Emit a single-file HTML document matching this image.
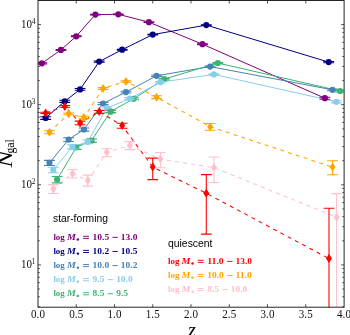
<!DOCTYPE html>
<html><head><meta charset="utf-8"><style>
html,body{margin:0;padding:0;background:#fff;}
body{width:350px;height:335px;overflow:hidden;}
svg{display:block;will-change:transform;}
</style></head><body>
<svg width="350" height="335" viewBox="0 0 350 335">
<defs><clipPath id="ax"><rect x="38.0" y="0.5" width="306.1" height="306.7"/></clipPath></defs>
<rect width="350" height="335" fill="#fff"/>
<g clip-path="url(#ax)">
<path d="M41.83,63.30 L60.95,49.90 L76.25,36.30 L95.38,14.60 L118.33,14.30 L148.93,22.20 L202.47,44.20 L324.88,98.20" stroke="#800080" stroke-width="1.0" fill="none"/><path d="M45.65,118.00 L64.78,101.30 L80.08,89.40 L99.20,61.60 L122.15,49.70 L152.75,34.60 L206.30,25.10 L328.70,62.10" stroke="#000080" stroke-width="1.0" fill="none"/><path d="M49.48,162.80 L68.60,139.60 L83.90,129.50 L103.02,103.50 L125.97,92.10 L156.57,75.80 L210.12,66.60 L332.53,89.80" stroke="#4682b4" stroke-width="1.0" fill="none"/><path d="M57.12,179.50 L76.25,147.30 L91.55,140.50 L110.67,111.50 L133.62,98.80 L164.22,79.10 L217.78,63.00 L340.18,91.00" stroke="#3cb371" stroke-width="1.0" fill="none"/><path d="M53.30,169.90 L72.43,146.80 L87.72,141.90 L106.85,108.10 L129.80,98.60 L160.40,82.20 L213.95,74.40 L336.35,101.80" stroke="#87ceeb" stroke-width="1.0" fill="none"/><path d="M45.65,112.90 L64.78,106.40 L80.08,122.90 L99.20,111.60 L122.15,125.60 L152.75,167.10 L206.30,193.30 L329.00,258.60" stroke="#ff0000" stroke-width="1.05" fill="none" stroke-dasharray="4 4.2"/><path d="M49.48,132.30 L68.60,113.80 L83.90,117.50 L103.02,88.40 L125.97,81.40 L156.57,97.20 L210.12,126.70 L332.53,167.10" stroke="#ffa500" stroke-width="1.05" fill="none" stroke-dasharray="4 4.2"/><path d="M53.30,189.00 L72.43,173.60 L87.72,180.60 L106.85,152.30 L129.80,145.50 L160.40,159.10 L213.95,167.60 L336.60,217.20" stroke="#ffc0cb" stroke-width="1.05" fill="none" stroke-dasharray="4 4.2"/>
<path d="M41.83,62.70V63.91" stroke="#800080" stroke-width="1.1" fill="none"/><path d="M36.43,62.70H47.23M36.43,63.91H47.23" stroke="#800080" stroke-width="1.05" fill="none"/><circle cx="41.83" cy="63.30" r="3.1" fill="#800080"/><path d="M60.95,49.40V50.40" stroke="#800080" stroke-width="1.1" fill="none"/><path d="M55.55,49.40H66.35M55.55,50.40H66.35" stroke="#800080" stroke-width="1.05" fill="none"/><circle cx="60.95" cy="49.90" r="3.1" fill="#800080"/><path d="M76.25,35.89V36.71" stroke="#800080" stroke-width="1.1" fill="none"/><path d="M70.85,35.89H81.65M70.85,36.71H81.65" stroke="#800080" stroke-width="1.05" fill="none"/><circle cx="76.25" cy="36.30" r="3.1" fill="#800080"/><path d="M95.38,14.30V14.90" stroke="#800080" stroke-width="1.1" fill="none"/><path d="M89.97,14.30H100.78M89.97,14.90H100.78" stroke="#800080" stroke-width="1.05" fill="none"/><circle cx="95.38" cy="14.60" r="3.1" fill="#800080"/><path d="M118.33,14.00V14.60" stroke="#800080" stroke-width="1.1" fill="none"/><path d="M112.92,14.00H123.73M112.92,14.60H123.73" stroke="#800080" stroke-width="1.05" fill="none"/><circle cx="118.33" cy="14.30" r="3.1" fill="#800080"/><path d="M148.93,21.87V22.54" stroke="#800080" stroke-width="1.1" fill="none"/><path d="M143.53,21.87H154.33M143.53,22.54H154.33" stroke="#800080" stroke-width="1.05" fill="none"/><circle cx="148.93" cy="22.20" r="3.1" fill="#800080"/><path d="M202.47,43.74V44.66" stroke="#800080" stroke-width="1.1" fill="none"/><path d="M197.07,43.74H207.88M197.07,44.66H207.88" stroke="#800080" stroke-width="1.05" fill="none"/><circle cx="202.47" cy="44.20" r="3.1" fill="#800080"/><path d="M324.88,97.21V99.22" stroke="#800080" stroke-width="1.1" fill="none"/><path d="M319.48,97.21H330.27M319.48,99.22H330.27" stroke="#800080" stroke-width="1.05" fill="none"/><circle cx="324.88" cy="98.20" r="3.1" fill="#800080"/><path d="M45.65,116.69V119.36" stroke="#000080" stroke-width="1.1" fill="none"/><path d="M40.25,116.69H51.05M40.25,119.36H51.05" stroke="#000080" stroke-width="1.05" fill="none"/><circle cx="45.65" cy="118.00" r="3.1" fill="#000080"/><path d="M64.78,100.27V102.36" stroke="#000080" stroke-width="1.1" fill="none"/><path d="M59.38,100.27H70.18M59.38,102.36H70.18" stroke="#000080" stroke-width="1.05" fill="none"/><circle cx="64.78" cy="101.30" r="3.1" fill="#000080"/><path d="M80.08,88.53V90.29" stroke="#000080" stroke-width="1.1" fill="none"/><path d="M74.67,88.53H85.48M74.67,90.29H85.48" stroke="#000080" stroke-width="1.05" fill="none"/><circle cx="80.08" cy="89.40" r="3.1" fill="#000080"/><path d="M99.20,61.01V62.20" stroke="#000080" stroke-width="1.1" fill="none"/><path d="M93.80,61.01H104.60M93.80,62.20H104.60" stroke="#000080" stroke-width="1.05" fill="none"/><circle cx="99.20" cy="61.60" r="3.1" fill="#000080"/><path d="M122.15,49.20V50.20" stroke="#000080" stroke-width="1.1" fill="none"/><path d="M116.75,49.20H127.55M116.75,50.20H127.55" stroke="#000080" stroke-width="1.05" fill="none"/><circle cx="122.15" cy="49.70" r="3.1" fill="#000080"/><path d="M152.75,34.20V35.00" stroke="#000080" stroke-width="1.1" fill="none"/><path d="M147.35,34.20H158.15M147.35,35.00H158.15" stroke="#000080" stroke-width="1.05" fill="none"/><circle cx="152.75" cy="34.60" r="3.1" fill="#000080"/><path d="M206.30,24.75V25.45" stroke="#000080" stroke-width="1.1" fill="none"/><path d="M200.90,24.75H211.70M200.90,25.45H211.70" stroke="#000080" stroke-width="1.05" fill="none"/><circle cx="206.30" cy="25.10" r="3.1" fill="#000080"/><path d="M328.70,61.51V62.70" stroke="#000080" stroke-width="1.1" fill="none"/><path d="M323.30,61.51H334.10M323.30,62.70H334.10" stroke="#000080" stroke-width="1.05" fill="none"/><circle cx="328.70" cy="62.10" r="3.1" fill="#000080"/><path d="M49.48,160.35V165.43" stroke="#4682b4" stroke-width="1.1" fill="none"/><path d="M44.08,160.35H54.88M44.08,165.43H54.88" stroke="#4682b4" stroke-width="1.05" fill="none"/><circle cx="49.48" cy="162.80" r="3.1" fill="#4682b4"/><path d="M68.60,137.83V141.47" stroke="#4682b4" stroke-width="1.1" fill="none"/><path d="M63.20,137.83H74.00M63.20,141.47H74.00" stroke="#4682b4" stroke-width="1.05" fill="none"/><circle cx="68.60" cy="139.60" r="3.1" fill="#4682b4"/><path d="M83.90,127.96V131.11" stroke="#4682b4" stroke-width="1.1" fill="none"/><path d="M78.50,127.96H89.30M78.50,131.11H89.30" stroke="#4682b4" stroke-width="1.05" fill="none"/><circle cx="83.90" cy="129.50" r="3.1" fill="#4682b4"/><path d="M103.02,102.44V104.60" stroke="#4682b4" stroke-width="1.1" fill="none"/><path d="M97.62,102.44H108.42M97.62,104.60H108.42" stroke="#4682b4" stroke-width="1.05" fill="none"/><circle cx="103.02" cy="103.50" r="3.1" fill="#4682b4"/><path d="M125.97,91.19V93.03" stroke="#4682b4" stroke-width="1.1" fill="none"/><path d="M120.57,91.19H131.38M120.57,93.03H131.38" stroke="#4682b4" stroke-width="1.05" fill="none"/><circle cx="125.97" cy="92.10" r="3.1" fill="#4682b4"/><path d="M156.57,75.08V76.53" stroke="#4682b4" stroke-width="1.1" fill="none"/><path d="M151.17,75.08H161.97M151.17,76.53H161.97" stroke="#4682b4" stroke-width="1.05" fill="none"/><circle cx="156.57" cy="75.80" r="3.1" fill="#4682b4"/><path d="M210.12,65.97V67.24" stroke="#4682b4" stroke-width="1.1" fill="none"/><path d="M204.72,65.97H215.53M204.72,67.24H215.53" stroke="#4682b4" stroke-width="1.05" fill="none"/><circle cx="210.12" cy="66.60" r="3.1" fill="#4682b4"/><path d="M332.53,88.92V90.70" stroke="#4682b4" stroke-width="1.1" fill="none"/><path d="M327.13,88.92H337.93M327.13,90.70H337.93" stroke="#4682b4" stroke-width="1.05" fill="none"/><circle cx="332.53" cy="89.80" r="3.1" fill="#4682b4"/><path d="M57.12,176.42V182.88" stroke="#3cb371" stroke-width="1.1" fill="none"/><path d="M51.73,176.42H62.52M51.73,182.88H62.52" stroke="#3cb371" stroke-width="1.05" fill="none"/><circle cx="57.12" cy="179.50" r="3.1" fill="#3cb371"/><path d="M76.25,145.33V149.39" stroke="#3cb371" stroke-width="1.1" fill="none"/><path d="M70.85,145.33H81.65M70.85,149.39H81.65" stroke="#3cb371" stroke-width="1.05" fill="none"/><circle cx="76.25" cy="147.30" r="3.1" fill="#3cb371"/><path d="M91.55,138.71V142.39" stroke="#3cb371" stroke-width="1.1" fill="none"/><path d="M86.15,138.71H96.95M86.15,142.39H96.95" stroke="#3cb371" stroke-width="1.05" fill="none"/><circle cx="91.55" cy="140.50" r="3.1" fill="#3cb371"/><path d="M110.67,110.31V112.73" stroke="#3cb371" stroke-width="1.1" fill="none"/><path d="M105.27,110.31H116.08M105.27,112.73H116.08" stroke="#3cb371" stroke-width="1.05" fill="none"/><circle cx="110.67" cy="111.50" r="3.1" fill="#3cb371"/><path d="M133.62,97.80V99.83" stroke="#3cb371" stroke-width="1.1" fill="none"/><path d="M128.22,97.80H139.03M128.22,99.83H139.03" stroke="#3cb371" stroke-width="1.05" fill="none"/><circle cx="133.62" cy="98.80" r="3.1" fill="#3cb371"/><path d="M164.22,78.35V79.87" stroke="#3cb371" stroke-width="1.1" fill="none"/><path d="M158.82,78.35H169.62M158.82,79.87H169.62" stroke="#3cb371" stroke-width="1.05" fill="none"/><circle cx="164.22" cy="79.10" r="3.1" fill="#3cb371"/><path d="M217.78,62.40V63.61" stroke="#3cb371" stroke-width="1.1" fill="none"/><path d="M212.38,62.40H223.18M212.38,63.61H223.18" stroke="#3cb371" stroke-width="1.05" fill="none"/><circle cx="217.78" cy="63.00" r="3.1" fill="#3cb371"/><path d="M340.18,90.11V91.92" stroke="#3cb371" stroke-width="1.1" fill="none"/><path d="M334.78,90.11H345.57M334.78,91.92H345.57" stroke="#3cb371" stroke-width="1.05" fill="none"/><circle cx="340.18" cy="91.00" r="3.1" fill="#3cb371"/><path d="M53.30,167.20V172.83" stroke="#87ceeb" stroke-width="1.1" fill="none"/><path d="M47.90,167.20H58.70M47.90,172.83H58.70" stroke="#87ceeb" stroke-width="1.05" fill="none"/><circle cx="53.30" cy="169.90" r="3.1" fill="#87ceeb"/><path d="M72.43,144.84V148.88" stroke="#87ceeb" stroke-width="1.1" fill="none"/><path d="M67.03,144.84H77.83M67.03,148.88H77.83" stroke="#87ceeb" stroke-width="1.05" fill="none"/><circle cx="72.43" cy="146.80" r="3.1" fill="#87ceeb"/><path d="M87.72,140.07V143.83" stroke="#87ceeb" stroke-width="1.1" fill="none"/><path d="M82.32,140.07H93.12M82.32,143.83H93.12" stroke="#87ceeb" stroke-width="1.05" fill="none"/><circle cx="87.72" cy="141.90" r="3.1" fill="#87ceeb"/><path d="M106.85,106.96V109.27" stroke="#87ceeb" stroke-width="1.1" fill="none"/><path d="M101.45,106.96H112.25M101.45,109.27H112.25" stroke="#87ceeb" stroke-width="1.05" fill="none"/><circle cx="106.85" cy="108.10" r="3.1" fill="#87ceeb"/><path d="M129.80,97.61V99.62" stroke="#87ceeb" stroke-width="1.1" fill="none"/><path d="M124.40,97.61H135.20M124.40,99.62H135.20" stroke="#87ceeb" stroke-width="1.05" fill="none"/><circle cx="129.80" cy="98.60" r="3.1" fill="#87ceeb"/><path d="M160.40,81.41V83.01" stroke="#87ceeb" stroke-width="1.1" fill="none"/><path d="M155.00,81.41H165.80M155.00,83.01H165.80" stroke="#87ceeb" stroke-width="1.05" fill="none"/><circle cx="160.40" cy="82.20" r="3.1" fill="#87ceeb"/><path d="M213.95,73.70V75.12" stroke="#87ceeb" stroke-width="1.1" fill="none"/><path d="M208.55,73.70H219.35M208.55,75.12H219.35" stroke="#87ceeb" stroke-width="1.05" fill="none"/><circle cx="213.95" cy="74.40" r="3.1" fill="#87ceeb"/><path d="M336.35,100.76V102.87" stroke="#87ceeb" stroke-width="1.1" fill="none"/><path d="M330.95,100.76H341.75M330.95,102.87H341.75" stroke="#87ceeb" stroke-width="1.05" fill="none"/><circle cx="336.35" cy="101.80" r="3.1" fill="#87ceeb"/><path d="M45.65,112.30V113.50" stroke="#ff0000" stroke-width="1.1" fill="none"/><path d="M40.25,112.30H51.05M40.25,113.50H51.05" stroke="#ff0000" stroke-width="1.05" fill="none"/><path d="M45.65,108.40L48.65,112.90L45.65,117.40L42.65,112.90Z" fill="#ff0000"/><path d="M64.78,105.50V107.20" stroke="#ff0000" stroke-width="1.1" fill="none"/><path d="M59.38,105.50H70.18M59.38,107.20H70.18" stroke="#ff0000" stroke-width="1.05" fill="none"/><path d="M64.78,101.90L67.78,106.40L64.78,110.90L61.78,106.40Z" fill="#ff0000"/><path d="M80.08,121.10V124.80" stroke="#ff0000" stroke-width="1.1" fill="none"/><path d="M74.67,121.10H85.48M74.67,124.80H85.48" stroke="#ff0000" stroke-width="1.05" fill="none"/><path d="M80.08,118.40L83.08,122.90L80.08,127.40L77.08,122.90Z" fill="#ff0000"/><path d="M99.20,110.50V113.20" stroke="#ff0000" stroke-width="1.1" fill="none"/><path d="M93.80,110.50H104.60M93.80,113.20H104.60" stroke="#ff0000" stroke-width="1.05" fill="none"/><path d="M99.20,107.10L102.20,111.60L99.20,116.10L96.20,111.60Z" fill="#ff0000"/><path d="M122.15,123.20V128.30" stroke="#ff0000" stroke-width="1.1" fill="none"/><path d="M116.75,123.20H127.55M116.75,128.30H127.55" stroke="#ff0000" stroke-width="1.05" fill="none"/><path d="M122.15,121.10L125.15,125.60L122.15,130.10L119.15,125.60Z" fill="#ff0000"/><path d="M152.75,158.10V179.60" stroke="#ff0000" stroke-width="1.1" fill="none"/><path d="M147.35,158.10H158.15M147.35,179.60H158.15" stroke="#ff0000" stroke-width="1.05" fill="none"/><path d="M152.75,162.60L155.75,167.10L152.75,171.60L149.75,167.10Z" fill="#ff0000"/><path d="M206.30,174.60V234.10" stroke="#ff0000" stroke-width="1.1" fill="none"/><path d="M200.90,174.60H211.70M200.90,234.10H211.70" stroke="#ff0000" stroke-width="1.05" fill="none"/><path d="M206.30,188.80L209.30,193.30L206.30,197.80L203.30,193.30Z" fill="#ff0000"/><path d="M329.00,208.30V320.00" stroke="#ff0000" stroke-width="1.1" fill="none"/><path d="M323.60,208.30H334.40" stroke="#ff0000" stroke-width="1.05" fill="none"/><path d="M329.00,254.10L332.00,258.60L329.00,263.10L326.00,258.60Z" fill="#ff0000"/><path d="M49.48,130.80V133.70" stroke="#ffa500" stroke-width="1.1" fill="none"/><path d="M44.08,130.80H54.88M44.08,133.70H54.88" stroke="#ffa500" stroke-width="1.05" fill="none"/><path d="M49.48,127.80L52.48,132.30L49.48,136.80L46.48,132.30Z" fill="#ffa500"/><path d="M68.60,112.90V114.80" stroke="#ffa500" stroke-width="1.1" fill="none"/><path d="M63.20,112.90H74.00M63.20,114.80H74.00" stroke="#ffa500" stroke-width="1.05" fill="none"/><path d="M68.60,109.30L71.60,113.80L68.60,118.30L65.60,113.80Z" fill="#ffa500"/><path d="M83.90,116.30V118.70" stroke="#ffa500" stroke-width="1.1" fill="none"/><path d="M78.50,116.30H89.30M78.50,118.70H89.30" stroke="#ffa500" stroke-width="1.05" fill="none"/><path d="M83.90,113.00L86.90,117.50L83.90,122.00L80.90,117.50Z" fill="#ffa500"/><path d="M103.02,87.60V89.40" stroke="#ffa500" stroke-width="1.1" fill="none"/><path d="M97.62,87.60H108.42M97.62,89.40H108.42" stroke="#ffa500" stroke-width="1.05" fill="none"/><path d="M103.02,83.90L106.02,88.40L103.02,92.90L100.02,88.40Z" fill="#ffa500"/><path d="M125.97,80.70V82.20" stroke="#ffa500" stroke-width="1.1" fill="none"/><path d="M120.57,80.70H131.38M120.57,82.20H131.38" stroke="#ffa500" stroke-width="1.05" fill="none"/><path d="M125.97,76.90L128.97,81.40L125.97,85.90L122.97,81.40Z" fill="#ffa500"/><path d="M156.57,95.70V98.60" stroke="#ffa500" stroke-width="1.1" fill="none"/><path d="M151.17,95.70H161.97M151.17,98.60H161.97" stroke="#ffa500" stroke-width="1.05" fill="none"/><path d="M156.57,92.70L159.57,97.20L156.57,101.70L153.57,97.20Z" fill="#ffa500"/><path d="M210.12,123.50V130.30" stroke="#ffa500" stroke-width="1.1" fill="none"/><path d="M204.72,123.50H215.53M204.72,130.30H215.53" stroke="#ffa500" stroke-width="1.05" fill="none"/><path d="M210.12,122.20L213.12,126.70L210.12,131.20L207.12,126.70Z" fill="#ffa500"/><path d="M332.53,160.70V174.80" stroke="#ffa500" stroke-width="1.1" fill="none"/><path d="M327.13,160.70H337.93M327.13,174.80H337.93" stroke="#ffa500" stroke-width="1.05" fill="none"/><path d="M332.53,162.60L335.53,167.10L332.53,171.60L329.53,167.10Z" fill="#ffa500"/><path d="M53.30,184.60V193.40" stroke="#ffc0cb" stroke-width="1.1" fill="none"/><path d="M47.90,184.60H58.70M47.90,193.40H58.70" stroke="#ffc0cb" stroke-width="1.05" fill="none"/><path d="M53.30,184.50L56.30,189.00L53.30,193.50L50.30,189.00Z" fill="#ffc0cb"/><path d="M72.43,169.40V178.00" stroke="#ffc0cb" stroke-width="1.1" fill="none"/><path d="M67.03,169.40H77.83M67.03,178.00H77.83" stroke="#ffc0cb" stroke-width="1.05" fill="none"/><path d="M72.43,169.10L75.43,173.60L72.43,178.10L69.43,173.60Z" fill="#ffc0cb"/><path d="M87.72,175.10V186.10" stroke="#ffc0cb" stroke-width="1.1" fill="none"/><path d="M82.32,175.10H93.12M82.32,186.10H93.12" stroke="#ffc0cb" stroke-width="1.05" fill="none"/><path d="M87.72,176.10L90.72,180.60L87.72,185.10L84.72,180.60Z" fill="#ffc0cb"/><path d="M106.85,148.70V156.70" stroke="#ffc0cb" stroke-width="1.1" fill="none"/><path d="M101.45,148.70H112.25M101.45,156.70H112.25" stroke="#ffc0cb" stroke-width="1.05" fill="none"/><path d="M106.85,147.80L109.85,152.30L106.85,156.80L103.85,152.30Z" fill="#ffc0cb"/><path d="M129.80,141.60V149.60" stroke="#ffc0cb" stroke-width="1.1" fill="none"/><path d="M124.40,141.60H135.20M124.40,149.60H135.20" stroke="#ffc0cb" stroke-width="1.05" fill="none"/><path d="M129.80,141.00L132.80,145.50L129.80,150.00L126.80,145.50Z" fill="#ffc0cb"/><path d="M160.40,152.50V167.70" stroke="#ffc0cb" stroke-width="1.1" fill="none"/><path d="M155.00,152.50H165.80M155.00,167.70H165.80" stroke="#ffc0cb" stroke-width="1.05" fill="none"/><path d="M160.40,154.60L163.40,159.10L160.40,163.60L157.40,159.10Z" fill="#ffc0cb"/><path d="M213.95,157.00V182.50" stroke="#ffc0cb" stroke-width="1.1" fill="none"/><path d="M208.55,157.00H219.35M208.55,182.50H219.35" stroke="#ffc0cb" stroke-width="1.05" fill="none"/><path d="M213.95,163.10L216.95,167.60L213.95,172.10L210.95,167.60Z" fill="#ffc0cb"/><path d="M336.60,193.60V320.00" stroke="#ffc0cb" stroke-width="1.1" fill="none"/><path d="M331.20,193.60H342.00" stroke="#ffc0cb" stroke-width="1.05" fill="none"/><path d="M336.60,212.70L339.60,217.20L336.60,221.70L333.60,217.20Z" fill="#ffc0cb"/><path d="M105.27,110.31H116.08M105.27,112.73H116.08" stroke="#3cb371" stroke-width="1.05" fill="none"/><circle cx="110.67" cy="111.50" r="3.1" fill="#3cb371"/>
</g>
<g font-family="Liberation Serif, serif" font-size="10.5" fill="#000">
<text x="53" y="221.9" font-family="Liberation Sans, sans-serif" font-size="10.3">star-forming</text><g fill="#800080" font-weight="bold" font-size="8.7"><text x="53.40" y="239.6" textLength="11.40" lengthAdjust="spacingAndGlyphs" >log</text><text x="67.00" y="239.6" textLength="8.90" lengthAdjust="spacingAndGlyphs" font-style="italic">M</text><circle cx="77.90" cy="239.50" r="1.2" fill="#800080"/><path d="M83.10,236.30h5.9M83.10,238.40h5.9" stroke="#800080" stroke-width="0.95"/><text x="92.60" y="239.6" textLength="16.56" lengthAdjust="spacingAndGlyphs" >10.5</text><path d="M112.46,237.35h5.4" stroke="#800080" stroke-width="0.95"/><text x="120.86" y="239.6" textLength="16.56" lengthAdjust="spacingAndGlyphs" >13.0</text></g><g fill="#000080" font-weight="bold" font-size="8.7"><text x="53.40" y="253.7" textLength="11.40" lengthAdjust="spacingAndGlyphs" >log</text><text x="67.00" y="253.7" textLength="8.90" lengthAdjust="spacingAndGlyphs" font-style="italic">M</text><circle cx="77.90" cy="253.60" r="1.2" fill="#000080"/><path d="M83.10,250.40h5.9M83.10,252.50h5.9" stroke="#000080" stroke-width="0.95"/><text x="92.60" y="253.7" textLength="16.56" lengthAdjust="spacingAndGlyphs" >10.2</text><path d="M112.46,251.45h5.4" stroke="#000080" stroke-width="0.95"/><text x="120.86" y="253.7" textLength="16.56" lengthAdjust="spacingAndGlyphs" >10.5</text></g><g fill="#4682b4" font-weight="bold" font-size="8.7"><text x="53.40" y="267.8" textLength="11.40" lengthAdjust="spacingAndGlyphs" >log</text><text x="67.00" y="267.8" textLength="8.90" lengthAdjust="spacingAndGlyphs" font-style="italic">M</text><circle cx="77.90" cy="267.70" r="1.2" fill="#4682b4"/><path d="M83.10,264.50h5.9M83.10,266.60h5.9" stroke="#4682b4" stroke-width="0.95"/><text x="92.60" y="267.8" textLength="16.56" lengthAdjust="spacingAndGlyphs" >10.0</text><path d="M112.46,265.55h5.4" stroke="#4682b4" stroke-width="0.95"/><text x="120.86" y="267.8" textLength="16.56" lengthAdjust="spacingAndGlyphs" >10.2</text></g><g fill="#87ceeb" font-weight="bold" font-size="8.7"><text x="53.40" y="281.9" textLength="11.40" lengthAdjust="spacingAndGlyphs" >log</text><text x="67.00" y="281.9" textLength="8.90" lengthAdjust="spacingAndGlyphs" font-style="italic">M</text><circle cx="77.90" cy="281.80" r="1.2" fill="#87ceeb"/><path d="M83.10,278.60h5.9M83.10,280.70h5.9" stroke="#87ceeb" stroke-width="0.95"/><text x="92.60" y="281.9" textLength="11.85" lengthAdjust="spacingAndGlyphs" >9.5</text><path d="M107.75,279.65h5.4" stroke="#87ceeb" stroke-width="0.95"/><text x="116.15" y="281.9" textLength="16.56" lengthAdjust="spacingAndGlyphs" >10.0</text></g><g fill="#3cb371" font-weight="bold" font-size="8.7"><text x="53.40" y="296.0" textLength="11.40" lengthAdjust="spacingAndGlyphs" >log</text><text x="67.00" y="296.0" textLength="8.90" lengthAdjust="spacingAndGlyphs" font-style="italic">M</text><circle cx="77.90" cy="295.90" r="1.2" fill="#3cb371"/><path d="M83.10,292.70h5.9M83.10,294.80h5.9" stroke="#3cb371" stroke-width="0.95"/><text x="92.60" y="296.0" textLength="11.85" lengthAdjust="spacingAndGlyphs" >8.5</text><path d="M107.75,293.75h5.4" stroke="#3cb371" stroke-width="0.95"/><text x="116.15" y="296.0" textLength="11.85" lengthAdjust="spacingAndGlyphs" >9.5</text></g><text x="168" y="246.6" font-family="Liberation Sans, sans-serif" font-size="10.4">quiescent</text><g fill="#ff0000" font-weight="bold" font-size="8.7"><text x="168.00" y="263.6" textLength="11.40" lengthAdjust="spacingAndGlyphs" >log</text><text x="181.60" y="263.6" textLength="8.90" lengthAdjust="spacingAndGlyphs" font-style="italic">M</text><circle cx="192.50" cy="263.50" r="1.2" fill="#ff0000"/><path d="M197.70,260.30h5.9M197.70,262.40h5.9" stroke="#ff0000" stroke-width="0.95"/><text x="207.20" y="263.6" textLength="16.56" lengthAdjust="spacingAndGlyphs" >11.0</text><path d="M227.06,261.35h5.4" stroke="#ff0000" stroke-width="0.95"/><text x="235.46" y="263.6" textLength="16.56" lengthAdjust="spacingAndGlyphs" >13.0</text></g><g fill="#ffa500" font-weight="bold" font-size="8.7"><text x="168.00" y="277.70000000000005" textLength="11.40" lengthAdjust="spacingAndGlyphs" >log</text><text x="181.60" y="277.70000000000005" textLength="8.90" lengthAdjust="spacingAndGlyphs" font-style="italic">M</text><circle cx="192.50" cy="277.60" r="1.2" fill="#ffa500"/><path d="M197.70,274.40h5.9M197.70,276.50h5.9" stroke="#ffa500" stroke-width="0.95"/><text x="207.20" y="277.70000000000005" textLength="16.56" lengthAdjust="spacingAndGlyphs" >10.0</text><path d="M227.06,275.45h5.4" stroke="#ffa500" stroke-width="0.95"/><text x="235.46" y="277.70000000000005" textLength="16.56" lengthAdjust="spacingAndGlyphs" >11.0</text></g><g fill="#ffc0cb" font-weight="bold" font-size="8.7"><text x="168.00" y="291.8" textLength="11.40" lengthAdjust="spacingAndGlyphs" >log</text><text x="181.60" y="291.8" textLength="8.90" lengthAdjust="spacingAndGlyphs" font-style="italic">M</text><circle cx="192.50" cy="291.70" r="1.2" fill="#ffc0cb"/><path d="M197.70,288.50h5.9M197.70,290.60h5.9" stroke="#ffc0cb" stroke-width="0.95"/><text x="207.20" y="291.8" textLength="11.85" lengthAdjust="spacingAndGlyphs" >8.5</text><path d="M222.35,289.55h5.4" stroke="#ffc0cb" stroke-width="0.95"/><text x="230.75" y="291.8" textLength="16.56" lengthAdjust="spacingAndGlyphs" >10.0</text></g>
</g>
<path d="M76.25,307.2v-3.0M76.25,0.5v3.0M114.50,307.2v-3.0M114.50,0.5v3.0M152.75,307.2v-3.0M152.75,0.5v3.0M191.00,307.2v-3.0M191.00,0.5v3.0M229.25,307.2v-3.0M229.25,0.5v3.0M267.50,307.2v-3.0M267.50,0.5v3.0M305.75,307.2v-3.0M305.75,0.5v3.0M38.0,306.78h1.8M344.1,306.78h-1.8M38.0,296.77h1.8M344.1,296.77h-1.8M38.0,289.01h1.8M344.1,289.01h-1.8M38.0,282.67h1.8M344.1,282.67h-1.8M38.0,277.31h1.8M344.1,277.31h-1.8M38.0,272.66h1.8M344.1,272.66h-1.8M38.0,268.57h1.8M344.1,268.57h-1.8M38.0,264.90h3.0M344.1,264.90h-3.0M38.0,240.79h1.8M344.1,240.79h-1.8M38.0,226.68h1.8M344.1,226.68h-1.8M38.0,216.67h1.8M344.1,216.67h-1.8M38.0,208.91h1.8M344.1,208.91h-1.8M38.0,202.57h1.8M344.1,202.57h-1.8M38.0,197.21h1.8M344.1,197.21h-1.8M38.0,192.56h1.8M344.1,192.56h-1.8M38.0,188.47h1.8M344.1,188.47h-1.8M38.0,184.80h3.0M344.1,184.80h-3.0M38.0,160.69h1.8M344.1,160.69h-1.8M38.0,146.58h1.8M344.1,146.58h-1.8M38.0,136.57h1.8M344.1,136.57h-1.8M38.0,128.81h1.8M344.1,128.81h-1.8M38.0,122.47h1.8M344.1,122.47h-1.8M38.0,117.11h1.8M344.1,117.11h-1.8M38.0,112.46h1.8M344.1,112.46h-1.8M38.0,108.37h1.8M344.1,108.37h-1.8M38.0,104.70h3.0M344.1,104.70h-3.0M38.0,80.59h1.8M344.1,80.59h-1.8M38.0,66.48h1.8M344.1,66.48h-1.8M38.0,56.47h1.8M344.1,56.47h-1.8M38.0,48.71h1.8M344.1,48.71h-1.8M38.0,42.37h1.8M344.1,42.37h-1.8M38.0,37.01h1.8M344.1,37.01h-1.8M38.0,32.36h1.8M344.1,32.36h-1.8M38.0,28.27h1.8M344.1,28.27h-1.8M38.0,24.60h3.0M344.1,24.60h-3.0" stroke="#333" stroke-width="0.85" fill="none"/>
<rect x="38.0" y="0.5" width="306.1" height="306.7" fill="none" stroke="#1a1a1a" stroke-width="0.95"/>
<g font-family="Liberation Serif, serif" font-size="11.9" fill="#111">
<text transform="translate(38.00,317.6) scale(0.93,1)" text-anchor="middle">0.0</text><text transform="translate(76.25,317.6) scale(0.93,1)" text-anchor="middle">0.5</text><text transform="translate(114.50,317.6) scale(0.93,1)" text-anchor="middle">1.0</text><text transform="translate(152.75,317.6) scale(0.93,1)" text-anchor="middle">1.5</text><text transform="translate(191.00,317.6) scale(0.93,1)" text-anchor="middle">2.0</text><text transform="translate(229.25,317.6) scale(0.93,1)" text-anchor="middle">2.5</text><text transform="translate(267.50,317.6) scale(0.93,1)" text-anchor="middle">3.0</text><text transform="translate(305.75,317.6) scale(0.93,1)" text-anchor="middle">3.5</text><text transform="translate(344.00,317.6) scale(0.93,1)" text-anchor="middle">4.0</text>
<text transform="translate(32.0,27.50) scale(0.92,1)" text-anchor="end">10</text><text x="31.8" y="23.50" font-size="7.4">4</text><text transform="translate(32.0,107.60) scale(0.92,1)" text-anchor="end">10</text><text x="31.8" y="103.60" font-size="7.4">3</text><text transform="translate(32.0,187.70) scale(0.92,1)" text-anchor="end">10</text><text x="31.8" y="183.70" font-size="7.4">2</text><text transform="translate(32.0,267.80) scale(0.92,1)" text-anchor="end">10</text><text x="31.8" y="263.80" font-size="7.4">1</text>
</g>
<text x="191.8" y="336.5" font-family="Liberation Serif, serif" font-style="italic" font-size="20" text-anchor="middle">z</text>
<g transform="translate(11.8,167) rotate(-90)" font-family="Liberation Serif, serif">
<text x="-0.5" y="0" font-style="italic" font-size="19.5" textLength="16.6" lengthAdjust="spacingAndGlyphs">N</text>
<text x="13.4" y="2.3" font-size="11.8">gal</text>
</g>
</svg>
</body></html>
